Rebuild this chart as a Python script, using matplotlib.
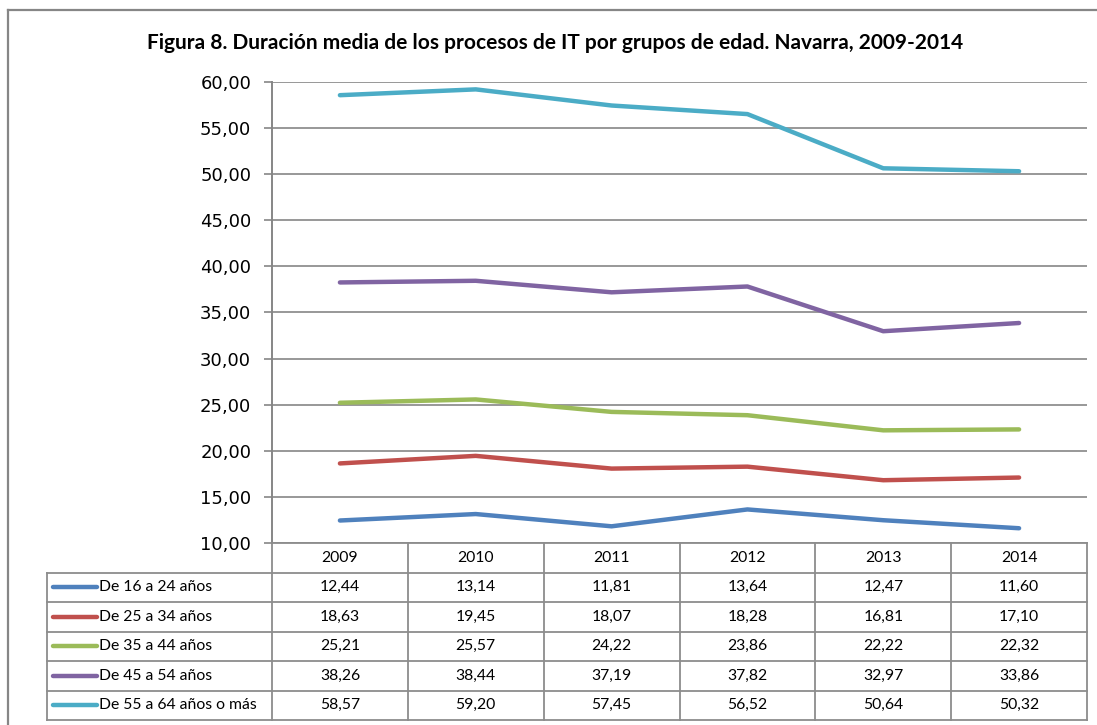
import matplotlib
matplotlib.use("Agg")
import matplotlib.pyplot as plt
from matplotlib.lines import Line2D

years = ["2009", "2010", "2011", "2012", "2013", "2014"]
series_names = ["De 16 a 24 años", "De 25 a 34 años", "De 35 a 44 años",
                "De 45 a 54 años", "De 55 a 64 años o más"]
s16_24 = [12.44, 13.14, 11.81, 13.64, 12.47, 11.60]
s25_34 = [18.63, 19.45, 18.07, 18.28, 16.81, 17.10]
s35_44 = [25.21, 25.57, 24.22, 23.86, 22.22, 22.32]
s45_54 = [38.26, 38.44, 37.19, 37.82, 32.97, 33.86]
s55_64 = [58.57, 59.20, 57.45, 56.52, 50.64, 50.32]
series = [s16_24, s25_34, s35_44, s45_54, s55_64]
colors = ["#4F81BD", "#C0504D", "#9BBB59", "#8064A2", "#4BACC6"]
yticks = [10, 15, 20, 25, 30, 35, 40, 45, 50, 55, 60]
title = "Figura 8. Duración media de los procesos de IT por grupos de edad. Navarra, 2009-2014"

W, H = 1097, 725
fig = plt.figure(figsize=(W / 100, H / 100), dpi=100)
fig.patch.set_facecolor("white")

def fr(x0, y0, x1, y1):
    return [x0 / W, 1 - y1 / H, (x1 - x0) / W, (y1 - y0) / H]

grid_c = "#868686"

# outer chart border (left and top)
fig.add_artist(Line2D([8 / W, 8 / W], [0, 1 - 10 / H], color=grid_c, lw=1.6, transform=fig.transFigure))
fig.add_artist(Line2D([8 / W, 1], [1 - 10 / H, 1 - 10 / H], color=grid_c, lw=1.6, transform=fig.transFigure))

fig.text(555 / W, 1 - 43 / H, title, ha="center", va="center",
         fontsize=15, fontweight="bold", family=["Lato", "DejaVu Sans"])

# main plot
L, R, T, B = 272, 1087, 82, 543
ax = fig.add_axes(fr(L, T, R, B))
x = list(range(len(years)))
for vals, c in zip(series, colors):
    ax.plot(x, vals, color=c, lw=3.2, solid_capstyle="round", zorder=3)
ax.set_xlim(-0.5, len(years) - 0.5)
ax.set_ylim(10, 60)
ax.set_yticks(yticks)
ax.set_yticklabels([f"{v:.2f}".replace(".", ",") for v in yticks])
ax.yaxis.grid(True, color=grid_c, lw=1.2)
ax.set_axisbelow(True)
ax.set_xticks([])
for s in ["top", "right", "bottom"]:
    ax.spines[s].set_visible(False)
ax.spines["left"].set_color(grid_c)
ax.spines["left"].set_linewidth(1.4)
ax.tick_params(axis="y", length=6, width=1.2, color=grid_c, pad=9, labelsize=13, labelcolor="#000000")

# data table
TL, TB = 47, 720
colw = (R - L) / len(years)
lead = (L - TL) / colw
tab = fig.add_axes(fr(TL, B, R, TB))
tab.set_xlim(-0.5 - lead, len(years) - 0.5)
nrows = len(series) + 1
tab.set_ylim(nrows, 0)
tab.axis("off")
lc = "#8C8C8C"
lw = 1.3
xl = -0.5 - lead
# horizontal lines
tab.plot([-0.5, len(years) - 0.5], [0, 0], color=lc, lw=lw, clip_on=False)
for r in range(1, nrows + 1):
    tab.plot([xl, len(years) - 0.5], [r, r], color=lc, lw=lw, clip_on=False)
# vertical lines
tab.plot([xl, xl], [1, nrows], color=lc, lw=lw, clip_on=False)
for i in range(len(years) + 1):
    tab.plot([i - 0.5, i - 0.5], [0, nrows], color=lc, lw=lw, clip_on=False)

tf = ["Lato", "DejaVu Sans"]
fs = 11.3
for i, yr in enumerate(years):
    tab.text(i, 0.5, yr, ha="center", va="center", fontsize=fs, family=tf)
for r, (name, vals, c) in enumerate(zip(series_names, series, colors), start=1):
    tab.plot([xl + 6 / colw, xl + 50 / colw], [r + 0.5, r + 0.5], color=c, lw=3.2,
             solid_capstyle="round", clip_on=False)
    tab.text(xl + 52 / colw, r + 0.5, name, ha="left", va="center", fontsize=fs, family=tf)
    for i, v in enumerate(vals):
        tab.text(i, r + 0.5, f"{v:.2f}".replace(".", ","), ha="center", va="center",
                 fontsize=fs, family=tf)

fig.savefig("out.png", dpi=100, facecolor="white")
